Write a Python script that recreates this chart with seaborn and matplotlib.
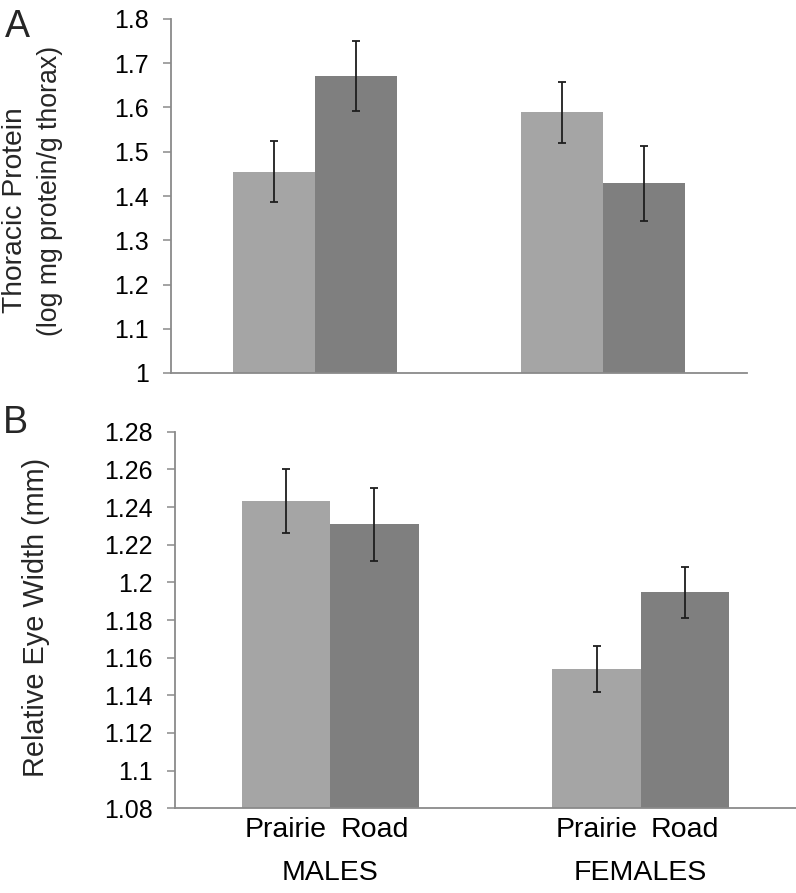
import numpy as np
import pandas as pd
import matplotlib
matplotlib.use("Agg")
import matplotlib.pyplot as plt
import seaborn as sns
from matplotlib.ticker import FuncFormatter, FixedLocator

# ---- data ----
sexes = ["MALES", "FEMALES"]
habitats = ["Prairie", "Road"]
protein_mean = [1.455, 1.671, 1.589, 1.429]   # M-Prairie, M-Road, F-Prairie, F-Road
protein_err = [0.069, 0.080, 0.069, 0.085]
eye_mean = [1.2432, 1.2308, 1.1542, 1.1947]
eye_err = [0.0172, 0.0194, 0.0122, 0.0134]
protein_ticks = [1.0, 1.1, 1.2, 1.3, 1.4, 1.5, 1.6, 1.7, 1.8]
eye_ticks = [1.08, 1.10, 1.12, 1.14, 1.16, 1.18, 1.20, 1.22, 1.24, 1.26, 1.28]
colors = ["#a5a5a5", "#7f7f7f"]

sns.set_theme(style="white")
plt.rcParams["font.family"] = ["Liberation Sans", "DejaVu Sans"]

W, H = 796, 893
fig = plt.figure(figsize=(W / 100, H / 100), dpi=100)


def px_axes(l, r, t, b):
    return fig.add_axes([l / W, 1 - b / H, (r - l) / W, (b - t) / H])


def make_df(vals, errs):
    rows = []
    i = 0
    for s in sexes:
        for h in habitats:
            rows.append({"sex": s, "habitat": h, "value": vals[i], "err": errs[i]})
            i += 1
    return pd.DataFrame(rows)


def draw(ax, df, ticks, ylim):
    sns.barplot(data=df, x="sex", y="value", hue="habitat", order=sexes,
                hue_order=habitats, palette=colors, width=0.57, errorbar=None,
                linewidth=0, ax=ax, legend=False)
    for p in ax.patches:
        xc = p.get_x() + p.get_width() / 2
        yv = p.get_height()
        match = df.loc[np.isclose(df["value"], yv)]
        if len(match):
            e = match["err"].iloc[0]
            ax.errorbar(xc, yv, yerr=e, fmt="none", ecolor="#1e1e1e",
                        elinewidth=1.3, capsize=3, capthick=1.3, zorder=5)
    ax.set_xlim(-0.5, 1.5)
    ax.set_ylim(*ylim)
    ax.yaxis.set_major_locator(FixedLocator(ticks))
    ax.yaxis.set_major_formatter(FuncFormatter(lambda v, _: f"{round(v, 4):g}"))
    for s in ["top", "right"]:
        ax.spines[s].set_visible(False)
    for s in ["left", "bottom"]:
        ax.spines[s].set_color("#8a8a8a")
        ax.spines[s].set_linewidth(1.3)
    ax.tick_params(axis="y", which="major", left=True, length=6, width=1.1,
                   color="#8a8a8a", pad=10, labelsize=18, labelcolor="black")
    ax.tick_params(axis="x", bottom=False, labelbottom=False)
    ax.set_xlabel("")
    ax.set_ylabel("")
    ax.set_facecolor("white")


# top panel
ax1 = px_axes(171, 747, 19, 373)
draw(ax1, make_df(protein_mean, protein_err), protein_ticks, (1.0, 1.8))

# bottom panel
ax2 = px_axes(175, 796, 431.7, 808.3)
draw(ax2, make_df(eye_mean, eye_err), eye_ticks, (1.08, 1.28))

# x labels for bottom panel
trans = matplotlib.transforms.blended_transform_factory(ax2.transData, fig.transFigure)
bar_centers = sorted([p.get_x() + p.get_width() / 2 for p in ax2.patches if p.get_height() > 0])
labels_order = [h for s in sexes for h in habitats]
for xc, lab in zip(bar_centers, labels_order):
    fig.text(xc, 1 - 830 / H, lab, transform=trans, ha="center", va="center",
             fontsize=20.5, color="black")
for i, s in enumerate(sexes):
    fig.text(i, 1 - 873 / H, s, transform=trans, ha="center", va="center",
             fontsize=20.5, color="black")

# y labels
fig.text(15 / W, 1 - 210 / H, "Thoracic Protein", rotation=90,
         ha="center", va="center", fontsize=20.3)
fig.text(50 / W, 1 - 191 / H, "(log mg protein/g thorax)", rotation=90,
         ha="center", va="center", fontsize=19.2)
fig.text(36 / W, 1 - 617 / H, "Relative Eye Width (mm)", rotation=90,
         ha="center", va="center", fontsize=20.8)

# panel letters
fig.text(5 / W, 1 - 37 / H, "A", ha="left", va="baseline", fontsize=27)
fig.text(3 / W, 1 - 433 / H, "B", ha="left", va="baseline", fontsize=27)

fig.savefig("out.png", dpi=100, facecolor="white")
